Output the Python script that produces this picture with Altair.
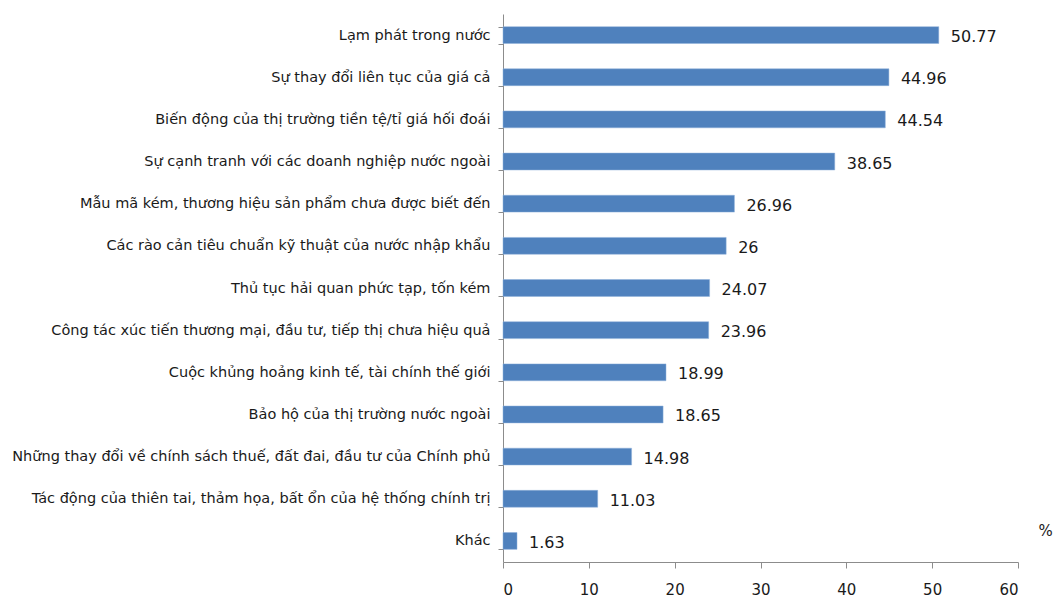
import altair as alt
import pandas as pd

categories = [
    "Lạm phát trong nước",
    "Sự thay đổi liên tục của giá cả",
    "Biến động của thị trường tiền tệ/tỉ giá hối đoái",
    "Sự cạnh tranh với các doanh nghiệp nước ngoài",
    "Mẫu mã kém, thương hiệu sản phẩm chưa được biết đến",
    "Các rào cản tiêu chuẩn kỹ thuật của nước nhập khẩu",
    "Thủ tục hải quan phức tạp, tốn kém",
    "Công tác xúc tiến thương mại, đầu tư, tiếp thị chưa hiệu quả",
    "Cuộc khủng hoảng kinh tế, tài chính thế giới",
    "Bảo hộ của thị trường nước ngoài",
    "Những thay đổi về chính sách thuế, đất đai, đầu tư của Chính phủ",
    "Tác động của thiên tai, thảm họa, bất ổn của hệ thống chính trị",
    "Khác",
]
values = [50.77, 44.96, 44.54, 38.65, 26.96, 26, 24.07, 23.96, 18.99, 18.65, 14.98, 11.03, 1.63]
x_ticks = [0, 10, 20, 30, 40, 50, 60]

df = pd.DataFrame({
    "cat": categories,
    "val": values,
    "label": [str(v) for v in values],
})

FONT = "DejaVu Sans"

y_enc = alt.Y(
    "cat:N",
    sort=categories,
    scale=alt.Scale(paddingInner=0.6, paddingOuter=0.3),
    axis=alt.Axis(
        title=None,
        tickBand="extent",
        tickSize=5,
        labelPadding=8,
        labelFontSize=14.5,
        labelFont=FONT,
        labelColor="#1a1a1a",
        labelLimit=500,
        domainColor="#8c8c8c",
        tickColor="#8c8c8c",
    ),
)

x_enc = alt.X(
    "val:Q",
    scale=alt.Scale(domain=[0, 60], nice=False),
    axis=alt.Axis(
        values=x_ticks,
        title="%",
        titleX=542,
        titleY=-32,
        titleAlign="center",
        titleBaseline="middle",
        titleFontSize=15,
        titleFontWeight="normal",
        titleFont=FONT,
        titleColor="#1a1a1a",
        tickSize=6,
        labelPadding=14,
        labelFontSize=15,
        labelFont=FONT,
        labelColor="#1a1a1a",
        domainColor="#8c8c8c",
        tickColor="#8c8c8c",
        grid=False,
    ),
)

bars = alt.Chart(df).mark_bar(color="#4F81BD", stroke="#8FB0DA", strokeWidth=0.5).encode(
    x=x_enc, y=y_enc
)

texts = alt.Chart(df).mark_text(
    align="left", baseline="middle", dx=12, dy=2, fontSize=16, font=FONT, color="#1a1a1a"
).encode(
    x=alt.X("val:Q"),
    y=alt.Y("cat:N", sort=categories),
    text="label:N",
)

chart = (
    alt.layer(bars, texts)
    .properties(
        width=515,
        height=548,
        autosize=alt.AutoSizeParams(type="none"),
        padding={"left": 503, "top": 14, "right": 41, "bottom": 39},
        background="white",
    )
    .configure_view(stroke=None)
)

chart.save("out.html", embed_options={"renderer": "svg", "actions": False})
